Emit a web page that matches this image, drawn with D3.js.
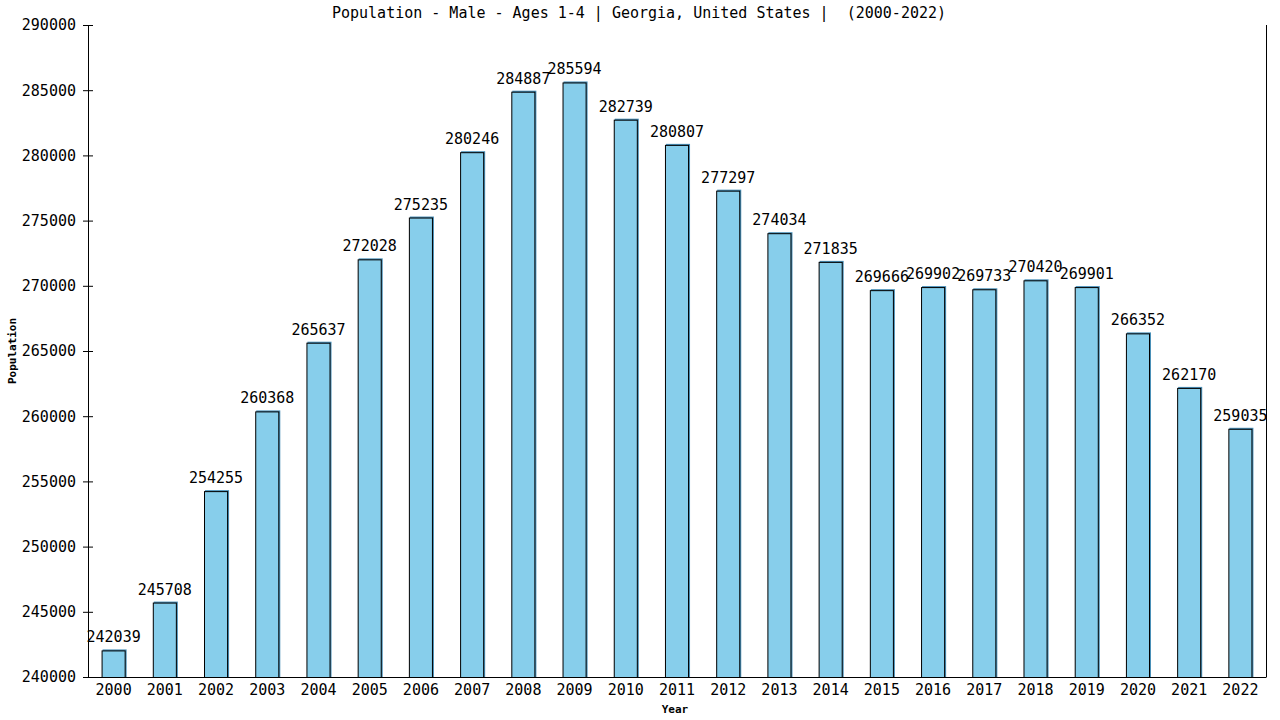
<!DOCTYPE html>
<html>
<head>
<meta charset="utf-8">
<script src="https://cdn.jsdelivr.net/npm/d3@7"></script>
<style>
  body { margin: 0; background: #fff; }
  text { font-family: "DejaVu Sans Mono", monospace; white-space: pre; }
</style>
</head>
<body>
<div id="wrapper"></div>
<script>
const years = ["2000","2001","2002","2003","2004","2005","2006","2007","2008","2009","2010","2011",
  "2012","2013","2014","2015","2016","2017","2018","2019","2020","2021","2022"]
const population = [242039,245708,254255,260368,265637,272028,275235,280246,284887,285594,282739,280807,
  277297,274034,271835,269666,269902,269733,270420,269901,266352,262170,259035]
const yTicks = [240000,245000,250000,255000,260000,265000,270000,275000,280000,285000,290000]

const title = "Population - Male - Ages 1-4 | Georgia, United States |  (2000-2022)"

let dimensions = {
  width: 1280,
  height: 720,
  margin: { top: 25, right: 14, bottom: 43, left: 88 },
}
dimensions.boundedWidth = dimensions.width - dimensions.margin.left - dimensions.margin.right
dimensions.boundedHeight = dimensions.height - dimensions.margin.top - dimensions.margin.bottom

const svg = d3.select("#wrapper")
  .append("svg")
  .attr("width", dimensions.width)
  .attr("height", dimensions.height)

const bounds = svg.append("g")
  .attr("transform", `translate(${dimensions.margin.left},${dimensions.margin.top})`)

const xScale = d3.scaleBand()
  .domain(years)
  .range([0, dimensions.boundedWidth])
  .paddingInner(0.53)
  .paddingOuter(0.265)

const yScale = d3.scaleLinear()
  .domain([240000, 290000])
  .range([dimensions.boundedHeight, 0])

// bars
const bars = bounds.append("g").selectAll("g")
  .data(years)
  .enter()
  .append("g")

bars.append("rect")
  .attr("x", d => xScale(d) + 1)
  .attr("y", (d, i) => yScale(population[i]) - 1)
  .attr("width", xScale.bandwidth())
  .attr("height", (d, i) => dimensions.boundedHeight - yScale(population[i]) + 1)
  .attr("fill", "#4a90b8")

bars.append("rect")
  .attr("x", d => xScale(d) + 0.5)
  .attr("y", (d, i) => yScale(population[i]) + 0.5)
  .attr("width", xScale.bandwidth() - 1)
  .attr("height", (d, i) => dimensions.boundedHeight - yScale(population[i]))
  .attr("fill", "#87ceeb")
  .attr("stroke", "#000")
  .attr("stroke-width", 1)

bars.append("text")
  .attr("x", d => xScale(d) + xScale.bandwidth() / 2)
  .attr("y", (d, i) => yScale(population[i]) - 8)
  .attr("text-anchor", "middle")
  .attr("font-size", 15)
  .attr("fill", "#000")
  .text((d, i) => population[i])

// axes
const yAxis = d3.axisLeft(yScale)
  .tickValues(yTicks)
  .tickSize(5)
  .tickPadding(7)
  .tickFormat(d3.format("d"))

const yAxisGroup = bounds.append("g").call(yAxis)
yAxisGroup.select(".domain").attr("stroke", "#000")
yAxisGroup.selectAll(".tick line").attr("x2", 5).attr("x1", -5).attr("stroke", "#000")
yAxisGroup.selectAll(".tick text")
  .attr("font-size", 15)
  .attr("font-family", "DejaVu Sans Mono, monospace")
  .attr("fill", "#000")

const xAxis = d3.axisBottom(xScale).tickSize(0).tickPadding(7)
const xAxisGroup = bounds.append("g")
  .attr("transform", `translate(0,${dimensions.boundedHeight})`)
  .call(xAxis)
xAxisGroup.select(".domain").attr("stroke", "#000")
xAxisGroup.selectAll(".tick text")
  .attr("font-size", 15)
  .attr("font-family", "DejaVu Sans Mono, monospace")
  .attr("fill", "#000")

// right border
bounds.append("line")
  .attr("x1", dimensions.boundedWidth + 0.5)
  .attr("x2", dimensions.boundedWidth + 0.5)
  .attr("y1", 0)
  .attr("y2", dimensions.boundedHeight)
  .attr("stroke", "#000")

// labels
svg.append("text")
  .attr("x", 639)
  .attr("y", 18)
  .attr("text-anchor", "middle")
  .attr("font-size", 15)
  .text(title)

svg.append("text")
  .attr("x", dimensions.margin.left + dimensions.boundedWidth / 2 - 2)
  .attr("y", 713)
  .attr("text-anchor", "middle")
  .attr("font-size", 11)
  .attr("font-weight", "bold")
  .text("Year")

svg.append("text")
  .attr("transform", `translate(16,${dimensions.margin.top + dimensions.boundedHeight / 2}) rotate(-90)`)
  .attr("text-anchor", "middle")
  .attr("font-size", 11)
  .attr("font-weight", "bold")
  .text("Population")
</script>
</body>
</html>
